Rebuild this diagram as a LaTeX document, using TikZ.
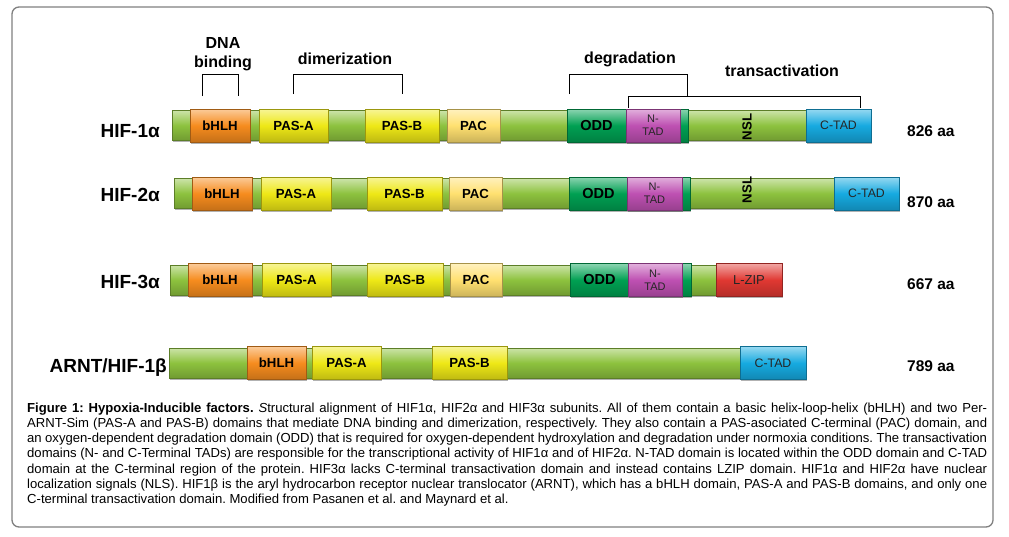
\documentclass[tikz,border=0pt]{standalone}
\usepackage{fontspec}
\setmainfont{Liberation Sans}
\usetikzlibrary{shadows}
\definecolor{barG}{RGB}{141,194,62}
\definecolor{orng}{RGB}{246,140,30}
\definecolor{yelw}{RGB}{238,232,22}
\definecolor{pacy}{RGB}{255,224,112}
\definecolor{oddg}{RGB}{0,160,82}
\definecolor{ntad}{RGB}{190,80,178}
\definecolor{ctad}{RGB}{22,170,224}
\definecolor{lzip}{RGB}{224,56,50}
\definecolor{frm}{RGB}{128,128,128}
\tikzset{
  seg/.style={draw=#1!65!black, line width=0.5pt,
    top color=#1!45!white, bottom color=#1!80!black, middle color=#1,
    inner sep=0pt, outer sep=0pt,
    drop shadow={shadow xshift=1.2pt, shadow yshift=-1.6pt, opacity=0.3, fill=black}},
  barseg/.style={seg=barG, minimum height=30pt},
  dombox/.style={seg=#1, minimum height=33pt},
  blab/.style={font=\bfseries\fontsize{13.2}{13.2}\selectfont, text=black},
  rlab/.style={font=\fontsize{12.3}{12.3}\selectfont, text=black!85},
  rowlab/.style={font=\bfseries\fontsize{19}{19}\selectfont, anchor=base east, inner sep=0pt},
  aalab/.style={font=\bfseries\fontsize{15.5}{15.5}\selectfont, anchor=base west, inner sep=0pt},
  toplab/.style={font=\bfseries\fontsize{16}{16}\selectfont, anchor=base, inner sep=0pt},
  brk/.style={line width=0.8pt, black},
  capl/.style={font=\fontsize{13.1}{15}\selectfont, anchor=base west, inner sep=0pt}
}
\newcommand\dom[6]{%
  \pgfmathsetmacro\domw{#4-#3}%
  \node[#1, minimum width=\domw pt, anchor=west] (#2) at (#3,#5) {#6};}
\frenchspacing
\begin{document}
\begin{tikzpicture}[x=1pt,y=-1pt]
\useasboundingbox (0,0) rectangle (1009,536);
\fill[white] (0,0) rectangle (1009,536);
\draw[frm, line width=1.3pt, rounded corners=7pt] (12,7) rectangle (993,527);

% ---------- top labels and brackets ----------
\node[toplab] (tDNA) at (223,48) {DNA};
\node[toplab] (tbind) at (223,67) {binding};
\node[toplab] (tdim) at (345,64) {dimerization};
\node[toplab] (tdeg) at (630,63) {degradation};
\node[toplab] (ttra) at (782,76) {transactivation};
\draw[brk] (202,96) -- (202,74) -- (238,74) -- (238,96);
\draw[brk] (293,94) -- (293,74) -- (402,74) -- (402,94);
\draw[brk] (569,94) -- (569,74) -- (687,74) -- (687,96);
\draw[brk] (628,108) -- (628,96) -- (860,96) -- (860,108);

% ---------- HIF-1alpha ----------
\node[rowlab] (l1) at (160,137) {HIF-1α};
\dom{barseg}{b1}{172}{868}{125.5}{}
\dom{dombox=orng,blab}{h1}{190}{250}{125.5}{bHLH}
\dom{dombox=yelw,blab}{pa1}{259}{328}{125.5}{PAS-A}
\dom{dombox=yelw,blab}{pb1}{365}{439}{125.5}{PAS-B}
\dom{dombox=pacy,blab}{pc1}{447}{500}{125.5}{PAC}
\dom{dombox=oddg,blab,font=\bfseries\fontsize{14.5}{14.5}\selectfont}{o1}{567}{688}{125.5}{\hspace*{-62pt}ODD}
\dom{dombox=ntad,rlab,align=center,font=\fontsize{11}{13}\selectfont}{n1}{626}{680}{125.5}{N-\\TAD}
\node[blab, rotate=90, inner sep=0pt] (s1) at (747,127) {NSL};
\dom{dombox=ctad,rlab}{c1}{806}{871}{125.5}{C-TAD}
\node[aalab] (a1) at (907,136) {826 aa};

% ---------- HIF-2alpha ----------
\node[rowlab] (l2) at (160,201) {HIF-2α};
\dom{barseg}{b2}{174}{896}{193.5}{}
\dom{dombox=orng,blab}{h2}{192}{252}{193.5}{bHLH}
\dom{dombox=yelw,blab}{pa2}{261}{331}{193.5}{PAS-A}
\dom{dombox=yelw,blab}{pb2}{367}{442}{193.5}{PAS-B}
\dom{dombox=pacy,blab}{pc2}{449}{502}{193.5}{PAC}
\dom{dombox=oddg,blab,font=\bfseries\fontsize{14.5}{14.5}\selectfont}{o2}{569}{690}{193.5}{\hspace*{-62pt}ODD}
\dom{dombox=ntad,rlab,align=center,font=\fontsize{11}{13}\selectfont}{n2}{627}{682}{193.5}{N-\\TAD}
\node[blab, rotate=90, inner sep=0pt] (s2) at (747,190) {NSL};
\dom{dombox=ctad,rlab}{c2}{834}{899}{193.5}{C-TAD}
\node[aalab] (a2) at (907,207) {870 aa};

% ---------- HIF-3alpha ----------
\node[rowlab] (l3) at (160,288) {HIF-3α};
\dom{barseg}{b3}{170}{780}{280}{}
\dom{dombox=orng,blab}{h3}{188}{252}{280}{bHLH}
\dom{dombox=yelw,blab}{pa3}{262}{331}{280}{PAS-A}
\dom{dombox=yelw,blab}{pb3}{367}{443}{280}{PAS-B}
\dom{dombox=pacy,blab}{pc3}{450}{502}{280}{PAC}
\dom{dombox=oddg,blab,font=\bfseries\fontsize{14.5}{14.5}\selectfont}{o3}{570}{691}{280}{\hspace*{-62pt}ODD}
\dom{dombox=ntad,rlab,align=center,font=\fontsize{11}{13}\selectfont}{n3}{628}{682}{280}{N-\\TAD}
\dom{dombox=lzip,rlab,font=\fontsize{13}{13}\selectfont}{z3}{716}{782}{280}{L-ZIP}
\node[aalab] (a3) at (907,289) {667 aa};

% ---------- ARNT/HIF-1beta ----------
\node[rowlab] (l4) at (167,372) {ARNT/HIF-1β};
\dom{barseg}{b4}{169}{804}{363}{}
\dom{dombox=orng,blab}{h4}{247}{306}{363}{bHLH}
\dom{dombox=yelw,blab}{pa4}{312}{381}{363}{PAS-A}
\dom{dombox=yelw,blab}{pb4}{432}{507}{363}{PAS-B}
\dom{dombox=ctad,rlab}{c4}{740}{806}{363}{C-TAD}
\node[aalab] (a4) at (907,371) {789 aa};

% ---------- caption ----------
\node[capl] (cap1) at (27,412) {\makebox[960pt][s]{\textbf{Figure 1: Hypoxia-Inducible factors.} \textit{S}tructural alignment of HIF1α, HIF2α and HIF3α subunits. All of them contain a basic helix-loop-helix (bHLH) and two Per-}};
\node[capl] (cap2) at (27,427.3) {\makebox[960pt][s]{ARNT-Sim (PAS-A and PAS-B) domains that mediate DNA binding and dimerization, respectively. They also contain a PAS-asociated C-terminal (PAC) domain, and}};
\node[capl] (cap3) at (27,442.5) {\makebox[960pt][s]{an oxygen-dependent degradation domain (ODD) that is required for oxygen-dependent hydroxylation and degradation under normoxia conditions. The transactivation}};
\node[capl] (cap4) at (27,457.8) {\makebox[960pt][s]{domains (N- and C-Terminal TADs) are responsible for the transcriptional activity of HIF1α and of HIF2α. N-TAD domain is located within the ODD domain and C-TAD}};
\node[capl] (cap5) at (27,473) {\makebox[960pt][s]{domain at the C-terminal region of the protein. HIF3α lacks C-terminal transactivation domain and instead contains LZIP domain. HIF1α and HIF2α have nuclear}};
\node[capl] (cap6) at (27,488.3) {\makebox[960pt][s]{localization signals (NLS). HIF1β is the aryl hydrocarbon receptor nuclear translocator (ARNT), which has a bHLH domain, PAS-A and PAS-B domains, and only one}};
\node[capl] (cap7) at (27,503.5) {C-terminal transactivation domain. Modified from Pasanen et al. and Maynard et al.};
\end{tikzpicture}
\end{document}
